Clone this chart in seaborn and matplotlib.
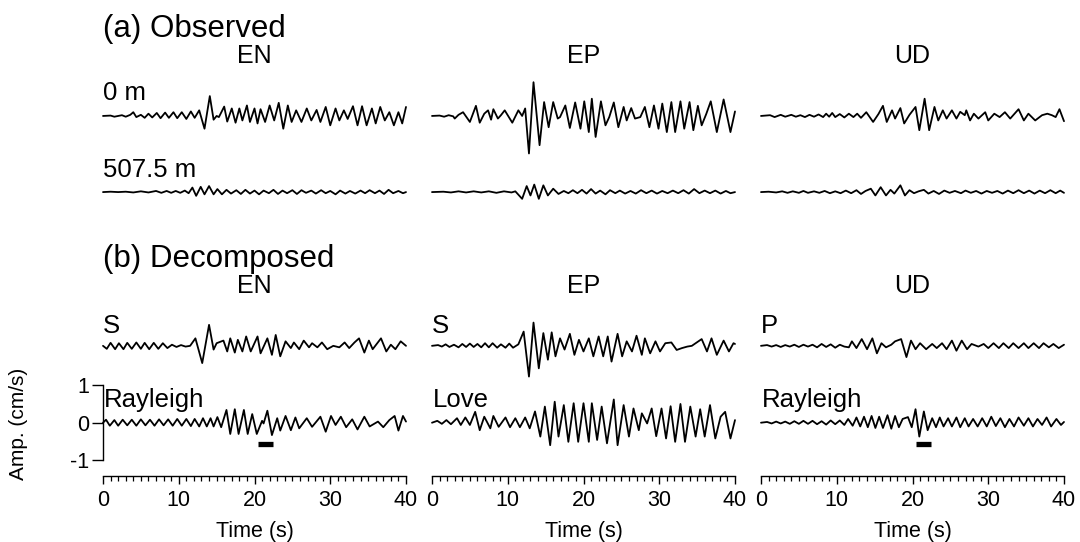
import matplotlib
matplotlib.use("Agg")
import matplotlib.pyplot as plt
from matplotlib.ticker import MultipleLocator, FixedLocator
import seaborn as sns

# ---------------------------------------------------------------------------
# Waveform data: (time [s], amplitude [cm/s]) at successive peaks and troughs
# ---------------------------------------------------------------------------
EN_0M = [(0, 0), (1.0, 0.01), (1.5, -0.02), (2.5, 0.02), (3.0, -0.02), (3.6, 0.03), (4.0, 0.1),
         (4.4, -0.03), (5.0, 0.03), (5.5, -0.05), (6.0, 0.06), (6.5, -0.04), (7.1, 0.08), (7.6, -0.06),
         (8.2, 0.09), (8.7, -0.05), (9.3, 0.1), (9.8, -0.06), (10.4, 0.1), (11.0, -0.08), (11.6, 0.12),
         (12.1, -0.05), (12.7, 0.15), (13.4, -0.34), (14.1, 0.53), (14.6, -0.1), (15.0, 0.0),
         (15.3, -0.03), (16.0, 0.25), (16.4, -0.15), (17.0, 0.2), (17.5, -0.18), (18.0, 0.2),
         (18.4, -0.12), (19.0, 0.28), (19.4, -0.16), (20.0, 0.2), (20.4, -0.2), (20.8, 0.18),
         (21.4, -0.16), (22.0, 0.28), (22.6, -0.12), (23.2, 0.35), (23.8, -0.34), (24.4, 0.28),
         (24.9, -0.16), (25.5, 0.15), (26.2, -0.16), (26.9, 0.2), (27.5, -0.12), (28.2, 0.16),
         (28.7, -0.16), (29.4, 0.24), (30.0, -0.25), (30.7, 0.2), (31.2, -0.12), (31.8, 0.15),
         (32.3, -0.08), (33.0, 0.26), (33.6, -0.25), (34.2, 0.26), (34.8, -0.25), (35.5, 0.2),
         (36.0, -0.2), (36.6, 0.24), (37.2, -0.12), (37.8, 0.1), (38.4, -0.25), (39.0, 0.1),
         (39.5, -0.2), (40.0, 0.24)]

EN_507M = [(0, 0), (1, 0.01), (2, 0), (3, 0.01), (4, -0.01), (5, 0.02), (6, -0.01), (7, 0.03),
           (7.7, -0.02), (8.4, 0.03), (9, -0.02), (9.6, 0.03), (10.2, -0.02), (10.8, 0.04),
           (11.3, -0.03), (11.8, 0.12), (12.3, -0.1), (12.9, 0.14), (13.4, -0.06), (14.0, 0.16),
           (14.6, -0.06), (15.1, 0.08), (15.7, -0.06), (16.3, 0.06), (16.9, -0.04), (17.6, 0.05),
           (18.2, -0.05), (18.8, 0.06), (19.4, -0.04), (20.0, 0.04), (20.6, -0.06), (21.2, 0.04),
           (21.9, -0.03), (22.5, 0.06), (23.1, -0.05), (23.7, 0.04), (24.3, -0.03), (25.0, 0.05),
           (25.6, -0.05), (26.2, 0.05), (26.8, -0.02), (27.5, 0.04), (28.1, -0.04), (28.8, 0.05),
           (29.4, -0.03), (30.0, 0.03), (30.7, -0.06), (31.3, 0.04), (32.0, -0.04), (32.6, 0.03),
           (33.3, -0.04), (34.0, 0.04), (34.6, -0.03), (35.2, 0.05), (35.9, -0.03), (36.5, 0.04),
           (37.1, -0.05), (37.7, 0.06), (38.3, -0.03), (39.0, 0.03), (39.6, -0.03), (40, 0)]

EP_0M = [(0, 0), (1, 0.01), (1.6, -0.02), (2.2, 0.02), (2.8, -0.01), (3.0, -0.07), (3.5, 0.03),
         (4.1, 0.1), (5.0, -0.16), (5.8, 0.27), (6.3, -0.18), (6.9, 0.06), (7.4, 0.15), (7.8, -0.1),
         (8.1, 0.18), (8.7, -0.07), (9.1, 0.02), (9.6, 0.15), (10.6, -0.18), (11.4, 0.15),
         (11.9, 0.0), (12.3, 0.2), (12.8, -1.0), (13.4, 0.9), (14.2, -0.78), (14.8, 0.37),
         (15.4, -0.3), (16.0, 0.37), (16.6, -0.07), (16.9, -0.03), (17.6, 0.28), (18.2, -0.32),
         (18.9, 0.36), (19.6, -0.34), (20.1, 0.39), (20.7, -0.43), (21.1, 0.46), (21.6, -0.56),
         (22.3, 0.39), (22.9, -0.25), (23.4, -0.03), (24.0, 0.36), (24.6, -0.3), (25.3, 0.24),
         (25.7, -0.12), (26.3, 0.21), (26.8, -0.07), (27.5, -0.03), (28.1, 0.24), (28.7, -0.3),
         (29.3, 0.28), (29.9, -0.34), (30.4, 0.33), (31.0, -0.43), (31.6, 0.37), (32.1, -0.43),
         (32.8, 0.39), (33.3, -0.34), (34.0, 0.37), (34.5, -0.38), (35.1, 0.27), (35.6, -0.25),
         (36.2, 0.05), (36.8, 0.39), (37.6, -0.43), (38.5, 0.44), (39.4, -0.43), (40.0, 0.12)]

EP_507M = [(0, 0), (1.5, 0.01), (2.5, -0.01), (3.5, 0.02), (4.5, -0.01), (5.5, 0.02), (6.5, -0.01),
           (7.5, 0.02), (8.5, -0.02), (9.5, 0.02), (10.5, -0.01), (11.0, 0.02), (11.9, -0.18),
           (12.5, 0.16), (13.0, -0.09), (13.5, 0.2), (14.1, -0.18), (14.7, 0.18), (15.3, -0.09),
           (16.0, 0.09), (16.7, -0.05), (17.4, 0.03), (18.0, -0.03), (18.6, 0.05), (19.2, -0.03),
           (19.8, 0.06), (20.4, -0.04), (21.0, 0.08), (21.6, -0.04), (22.2, 0.04), (22.9, -0.06),
           (23.5, 0.05), (24.2, -0.03), (24.8, 0.04), (25.5, -0.04), (26.2, 0.03), (26.9, -0.04),
           (27.6, 0.05), (28.3, -0.03), (29.0, 0.04), (29.7, -0.04), (30.4, 0.03), (31.1, -0.03),
           (31.8, 0.04), (32.5, -0.03), (33.2, 0.05), (33.9, -0.04), (34.6, 0.08), (35.3, -0.03),
           (36.0, 0.04), (36.7, -0.03), (37.4, 0.04), (38.1, -0.04), (38.8, 0.03), (39.4, -0.03),
           (40.0, 0.0)]

UD_0M = [(0, 0), (1.2, 0.02), (1.8, -0.03), (2.6, 0.03), (3.2, -0.02), (4.0, 0.03), (4.6, -0.02),
         (5.2, 0.02), (5.8, -0.03), (6.4, 0.03), (7.0, -0.02), (7.6, 0.04), (8.2, -0.03), (8.6, 0.06),
         (9.0, -0.02), (9.4, 0.08), (9.8, -0.03), (10.4, 0.05), (11.0, -0.04), (11.6, 0.06),
         (12.2, -0.03), (12.7, 0.06), (13.2, -0.05), (13.9, 0.1), (14.8, -0.16), (15.5, 0.05),
         (16.1, 0.27), (16.6, -0.16), (17.3, 0.15), (17.7, -0.07), (18.4, 0.21), (18.9, -0.2),
         (19.6, 0.03), (20.4, 0.24), (20.9, -0.38), (21.6, 0.46), (22.2, -0.38), (22.9, 0.24),
         (23.4, -0.12), (24.0, 0.15), (24.5, -0.07), (25.2, 0.15), (25.8, -0.07), (26.3, 0.11),
         (26.9, 0.02), (27.1, 0.15), (27.6, -0.12), (28.1, 0.06), (28.7, -0.07), (29.6, 0.1),
         (30.0, -0.12), (30.8, 0.06), (31.5, -0.03), (32.2, 0.1), (32.9, -0.07), (34.0, 0.18),
         (34.7, -0.12), (35.3, 0.06), (36.2, -0.12), (37.1, 0.02), (37.8, 0.06), (38.4, 0.02),
         (38.9, -0.03), (39.4, 0.18), (40.0, -0.14)]

UD_507M = [(0, 0), (1, 0.01), (2, -0.01), (2.8, 0.02), (3.5, -0.02), (4.2, 0.02), (5, -0.02),
           (5.6, 0.03), (6.2, -0.02), (7, 0.02), (7.7, -0.02), (8.4, 0.03), (9.1, -0.03), (9.8, 0.02),
           (10.5, -0.03), (11.2, 0.04), (11.9, -0.03), (12.6, 0.05), (13.2, -0.05), (13.8, 0.03),
           (14.5, 0.09), (15.1, -0.09), (15.8, 0.13), (16.5, -0.09), (17.1, 0.06), (17.6, -0.04),
           (18.4, 0.18), (19.0, -0.09), (19.6, 0.05), (20.2, -0.03), (20.8, 0.02), (21.5, 0.06),
           (22.1, -0.04), (22.8, 0.03), (23.5, -0.05), (24.2, 0.04), (24.9, -0.02), (25.6, 0.03),
           (26.4, -0.03), (27.0, 0.04), (27.7, -0.02), (28.4, 0.03), (29.1, -0.04), (29.8, 0.03),
           (30.5, -0.02), (31.2, 0.03), (31.9, -0.04), (32.6, 0.04), (33.3, -0.03), (34.0, 0.05),
           (34.7, -0.03), (35.4, 0.04), (36.1, -0.04), (36.8, 0.04), (37.5, -0.03), (38.2, 0.05),
           (38.9, -0.03), (39.5, 0.04), (40.0, -0.02)]

EN_S = [(0, 0.0), (0.5, -0.08), (1.0, 0.08), (1.6, -0.09), (2.1, 0.07), (2.7, -0.09), (3.2, 0.08),
        (3.8, -0.08), (4.4, 0.09), (5.0, -0.08), (5.5, 0.08), (6.1, -0.09), (6.7, 0.08), (7.3, -0.08),
        (7.9, 0.07), (8.5, -0.06), (9.1, 0.03), (9.7, -0.03), (10.3, 0.02), (10.9, -0.02),
        (11.5, 0.0), (12.2, 0.2), (13.1, -0.46), (14.0, 0.56), (14.6, -0.1), (15.0, 0.07),
        (15.9, 0.14), (16.4, -0.15), (16.8, 0.2), (17.4, -0.18), (17.8, 0.16), (18.4, -0.15),
        (18.9, 0.25), (19.5, -0.15), (20.4, 0.25), (20.8, -0.2), (21.7, 0.2), (22.3, -0.24),
        (22.8, 0.29), (23.4, -0.28), (24.1, 0.12), (24.8, -0.06), (25.2, 0.09), (25.9, -0.09),
        (26.5, 0.14), (27.2, -0.04), (27.6, 0.07), (28.3, -0.04), (28.9, 0.09), (29.6, -0.09),
        (30.4, 0.0), (31.2, -0.04), (31.9, 0.09), (32.5, -0.06), (33.2, 0.09), (33.8, 0.2),
        (34.5, -0.18), (35.1, 0.14), (35.6, -0.09), (36.7, 0.2), (37.4, -0.15), (38.0, 0.03),
        (38.6, -0.09), (39.3, 0.12), (40.0, 0.0)]

EN_RAYLEIGH = [(0, 0.0), (0.4, 0.08), (0.9, -0.08), (1.5, 0.07), (2.0, -0.08), (2.6, 0.08),
               (3.2, -0.07), (3.8, 0.08), (4.4, -0.08), (5.0, 0.09), (5.6, -0.07), (6.2, 0.08),
               (6.8, -0.08), (7.4, 0.09), (8.0, -0.07), (8.6, 0.09), (9.2, -0.08), (9.8, 0.1),
               (10.4, -0.08), (11.0, 0.1), (11.6, -0.09), (12.1, 0.1), (12.7, -0.1), (13.2, 0.12),
               (13.7, -0.1), (14.2, 0.12), (14.6, -0.1), (15.1, 0.15), (15.6, -0.12), (16.3, 0.34),
               (16.8, -0.3), (17.4, 0.36), (17.9, -0.3), (18.6, 0.34), (19.1, -0.3), (19.7, 0.23),
               (20.3, -0.3), (21.0, 0.05), (21.2, -0.02), (21.7, 0.32), (22.3, -0.33), (23.0, 0.12),
               (23.4, -0.21), (24.1, 0.18), (24.8, -0.2), (25.4, 0.14), (25.9, -0.15), (26.9, 0.12),
               (27.6, -0.11), (28.7, 0.16), (29.4, -0.24), (30.1, 0.18), (30.7, -0.06), (31.4, 0.16),
               (32.1, -0.12), (32.9, 0.09), (33.6, -0.18), (34.5, 0.16), (35.2, -0.1), (36.3, 0.03),
               (37.0, -0.12), (37.8, 0.07), (38.5, 0.18), (39.0, -0.21), (39.6, 0.18), (40.0, 0.03)]

EP_S = [(0, 0), (0.8, 0.02), (1.3, -0.02), (1.8, 0.04), (2.3, -0.03), (2.9, 0.03), (3.5, -0.04),
        (4.0, 0.05), (4.5, -0.03), (5.0, 0.06), (5.5, -0.03), (6.0, 0.05), (6.5, -0.04), (7.0, 0.07),
        (7.5, -0.04), (8.0, 0.07), (8.6, -0.05), (9.1, 0.04), (9.7, -0.05), (10.2, 0.06),
        (10.7, -0.05), (11.4, 0.04), (12.1, 0.38), (12.8, -0.82), (13.4, 0.62), (14.1, -0.6),
        (14.7, 0.34), (15.3, -0.37), (15.8, 0.36), (16.3, -0.28), (16.9, 0.2), (17.5, -0.1),
        (18.2, 0.32), (18.8, -0.24), (19.4, 0.16), (20.0, -0.15), (20.7, 0.2), (21.3, -0.28),
        (22.0, 0.25), (22.6, -0.28), (23.2, 0.25), (23.7, -0.42), (24.5, 0.32), (25.1, -0.28),
        (25.7, 0.12), (26.4, -0.15), (27.0, 0.27), (27.7, -0.24), (28.1, 0.2), (28.8, -0.2),
        (29.5, 0.12), (30.1, -0.15), (30.8, 0.07), (31.6, 0.09), (32.3, -0.11), (33.0, -0.06),
        (33.7, -0.02), (34.3, 0.0), (35.6, 0.18), (36.3, -0.15), (36.9, 0.2), (37.6, -0.24),
        (38.5, 0.14), (39.2, -0.15), (39.8, 0.07), (40.0, 0.05)]

EP_LOVE = [(0, 0.0), (0.7, 0.05), (1.3, -0.03), (1.9, 0.07), (2.5, -0.04), (3.3, 0.12), (3.8, -0.06),
           (4.4, 0.14), (5.0, -0.06), (5.7, 0.29), (6.3, -0.2), (6.9, 0.16), (7.7, -0.15), (8.1, 0.18),
           (8.8, -0.11), (9.7, 0.14), (10.3, -0.12), (11.0, 0.12), (11.6, -0.12), (12.3, 0.14),
           (12.9, -0.15), (13.6, 0.3), (14.3, -0.37), (14.9, 0.43), (15.6, -0.6), (16.2, 0.56),
           (16.7, -0.37), (17.4, 0.47), (18.0, -0.51), (18.7, 0.52), (19.3, -0.51), (20.0, 0.52),
           (20.7, -0.51), (21.1, 0.52), (21.8, -0.46), (22.4, 0.43), (23.1, -0.55), (24.0, 0.62),
           (24.5, -0.6), (25.3, 0.47), (26.0, -0.37), (26.6, 0.38), (27.3, -0.2), (27.7, 0.25),
           (28.4, -0.02), (29.0, 0.38), (29.6, -0.36), (30.3, 0.38), (30.9, -0.42), (31.5, 0.44),
           (32.1, -0.51), (32.8, 0.5), (33.4, -0.51), (34.1, 0.43), (34.8, -0.37), (35.4, 0.36),
           (36.0, -0.37), (36.7, 0.47), (37.4, -0.42), (38.1, 0.16), (38.7, 0.29), (39.4, -0.42),
           (40.0, 0.07)]

UD_P = [(0, 0), (0.8, 0.02), (1.4, -0.02), (2.0, 0.02), (2.6, -0.03), (3.2, 0.02), (3.8, -0.02),
        (4.4, 0.03), (5.0, -0.03), (5.6, 0.03), (6.2, -0.02), (6.8, 0.03), (7.4, -0.04), (8.0, 0.05),
        (8.6, -0.03), (9.2, 0.04), (9.8, -0.05), (10.4, 0.03), (11.0, -0.02), (11.6, -0.04),
        (12.0, 0.12), (12.6, -0.06), (13.3, 0.18), (14.0, -0.09), (14.7, 0.2), (15.3, -0.2),
        (15.9, 0.07), (16.5, -0.04), (17.2, 0.03), (17.7, 0.12), (18.5, 0.18), (19.2, -0.3),
        (19.8, 0.14), (20.4, -0.09), (21.0, 0.07), (21.8, -0.09), (22.6, 0.05), (23.2, -0.06),
        (23.9, 0.07), (24.5, -0.09), (25.2, 0.14), (25.8, -0.13), (26.5, 0.14), (27.2, -0.09),
        (27.8, 0.05), (28.7, -0.02), (29.4, 0.05), (30.0, -0.06), (30.7, 0.07), (31.4, -0.06),
        (32.0, 0.07), (32.7, -0.06), (33.3, 0.07), (34.0, -0.06), (34.7, 0.07), (35.3, -0.06),
        (36.0, 0.07), (36.7, -0.06), (37.3, 0.07), (38.0, -0.04), (38.6, 0.05), (39.3, -0.06),
        (40.0, 0.03)]

UD_RAYLEIGH = [(0, 0), (0.8, 0.02), (1.4, -0.02), (2.0, 0.03), (2.6, -0.02), (3.2, 0.03), (3.8, -0.03),
               (4.4, 0.04), (5.0, -0.03), (5.6, 0.05), (6.2, -0.03), (6.8, 0.05), (7.4, -0.04),
               (8.0, 0.04), (8.6, -0.05), (9.2, 0.06), (9.8, -0.04), (10.4, 0.06), (11.0, -0.06),
               (11.5, 0.1), (12.1, -0.08), (12.6, 0.14), (13.1, -0.1), (13.6, 0.16), (14.1, -0.12),
               (14.6, 0.18), (15.1, -0.14), (15.6, 0.16), (16.1, -0.14), (16.7, 0.2), (17.2, -0.16),
               (17.7, 0.18), (18.2, -0.12), (18.7, 0.1), (19.4, 0.15), (19.9, -0.12), (20.4, 0.36),
               (20.9, -0.37), (21.5, 0.3), (22.0, -0.2), (22.6, 0.12), (23.1, -0.12), (23.6, 0.14),
               (24.1, -0.1), (24.7, 0.12), (25.2, -0.1), (25.8, 0.14), (26.3, -0.12), (26.9, 0.12),
               (27.4, -0.1), (28.0, 0.1), (28.6, -0.1), (29.2, 0.12), (29.8, -0.1), (30.4, 0.16),
               (31.0, -0.09), (31.6, 0.12), (32.2, -0.12), (32.8, 0.1), (33.4, -0.1), (34.0, 0.14),
               (34.7, -0.08), (35.3, 0.12), (35.9, -0.1), (36.5, 0.1), (37.1, -0.06), (37.7, 0.14),
               (38.3, -0.1), (39.0, 0.1), (39.6, -0.06), (40.0, 0.02)]

# Labels
COMPONENTS = ["EN", "EP", "UD"]
DISTANCES = ["0 m", "507.5 m"]
WAVE_TYPES = [("S", "Rayleigh"), ("S", "Love"), ("P", "Rayleigh")]
OBSERVED = [(EN_0M, EN_507M), (EP_0M, EP_507M), (UD_0M, UD_507M)]
DECOMPOSED = [(EN_S, EN_RAYLEIGH), (EP_S, EP_LOVE), (UD_P, UD_RAYLEIGH)]
# Analysis window marked on the Rayleigh traces (s)
WINDOW = (20.5, 22.5)
WINDOW_COLUMNS = [0, 2]

# ---------------------------------------------------------------------------
# Layout (vertical offsets of each trace, in cm/s)
# ---------------------------------------------------------------------------
OFF_0M, OFF_507M, OFF_TOP, OFF_BOT = 8.18, 6.15, 2.05, 0.0

sns.set_theme(style="white")
plt.rcParams["font.family"] = ["Liberation Sans", "DejaVu Sans"]
plt.rcParams["axes.unicode_minus"] = False
for key in ["text.color", "axes.labelcolor", "xtick.color", "ytick.color", "axes.edgecolor"]:
    plt.rcParams[key] = "black"

fig = plt.figure(figsize=(10.8, 5.42), dpi=100)
lefts = [103 / 1080, 432 / 1080, 761 / 1080]
width = 303 / 1080
bottom = (542 - 476) / 542
height = (476 - 17.7) / 542
YMIN, YMAX = -1.421, 10.8

LW = 1.3
for i, comp in enumerate(COMPONENTS):
    ax = fig.add_axes([lefts[i], bottom, width, height])
    ax.set_facecolor("none")
    ax.set_xlim(0, 40)
    ax.set_ylim(YMIN, YMAX)

    traces = [(OBSERVED[i][0], OFF_0M), (OBSERVED[i][1], OFF_507M),
              (DECOMPOSED[i][0], OFF_TOP), (DECOMPOSED[i][1], OFF_BOT)]
    for data, off in traces:
        t = [p[0] for p in data]
        a = [p[1] + off for p in data]
        sns.lineplot(x=t, y=a, ax=ax, color="black", linewidth=LW,
                     estimator=None, sort=False, clip_on=False,
                     solid_joinstyle="round", solid_capstyle="round")

    if i in WINDOW_COLUMNS:
        ax.plot(list(WINDOW), [-0.57, -0.57], color="black", lw=3.8,
                solid_capstyle="butt")

    # Titles and trace labels
    ax.text(20, 9.59, comp, ha="center", va="baseline", fontsize=18)
    ax.text(20, 3.46, comp, ha="center", va="baseline", fontsize=18)
    if i == 0:
        ax.text(0, 10.285, "(a) Observed", ha="left", va="baseline", fontsize=22.5)
        ax.text(0, 4.16, "(b) Decomposed", ha="left", va="baseline", fontsize=22.5)
        ax.text(0, 8.605, DISTANCES[0], ha="left", va="baseline", fontsize=18.5)
        ax.text(0, 6.552, DISTANCES[1], ha="left", va="baseline", fontsize=18.5)
    ax.text(0, 2.392, WAVE_TYPES[i][0], ha="left", va="baseline", fontsize=18.5)
    ax.text(0.15, 0.42, WAVE_TYPES[i][1], ha="left", va="baseline", fontsize=18.5)

    # Spines and ticks
    for side in ["top", "right"]:
        ax.spines[side].set_visible(False)
    ax.spines["bottom"].set_bounds(0, 40)
    ax.spines["bottom"].set_linewidth(1.0)
    ax.xaxis.set_major_locator(MultipleLocator(10))
    ax.xaxis.set_minor_locator(MultipleLocator(1))
    ax.tick_params(axis="x", which="major", direction="out", length=5.8, width=1.0,
                   labelsize=15.5, pad=4.5, bottom=True)
    ax.tick_params(axis="x", which="minor", direction="out", length=3.4, width=0.9,
                   bottom=True)
    ax.set_xlabel("Time (s)", fontsize=15.5, labelpad=7)

    if i == 0:
        ax.spines["left"].set_bounds(-1, 1)
        ax.spines["left"].set_linewidth(1.0)
        ax.yaxis.set_major_locator(FixedLocator([-1, 0, 1]))
        ax.set_yticklabels(["-1", "0", "1"])
        ax.tick_params(axis="y", which="major", direction="out", length=8, width=1.0,
                       labelsize=15.5, pad=2, left=True)
    else:
        ax.spines["left"].set_visible(False)
        ax.set_yticks([])
    ax.set_ylabel("")
    ax.grid(False)

fig.text(19 / 1080, (542 - 424) / 542, "Amp. (cm/s)", rotation=90,
         ha="center", va="center", fontsize=15)

fig.savefig("out.png", dpi=100)
